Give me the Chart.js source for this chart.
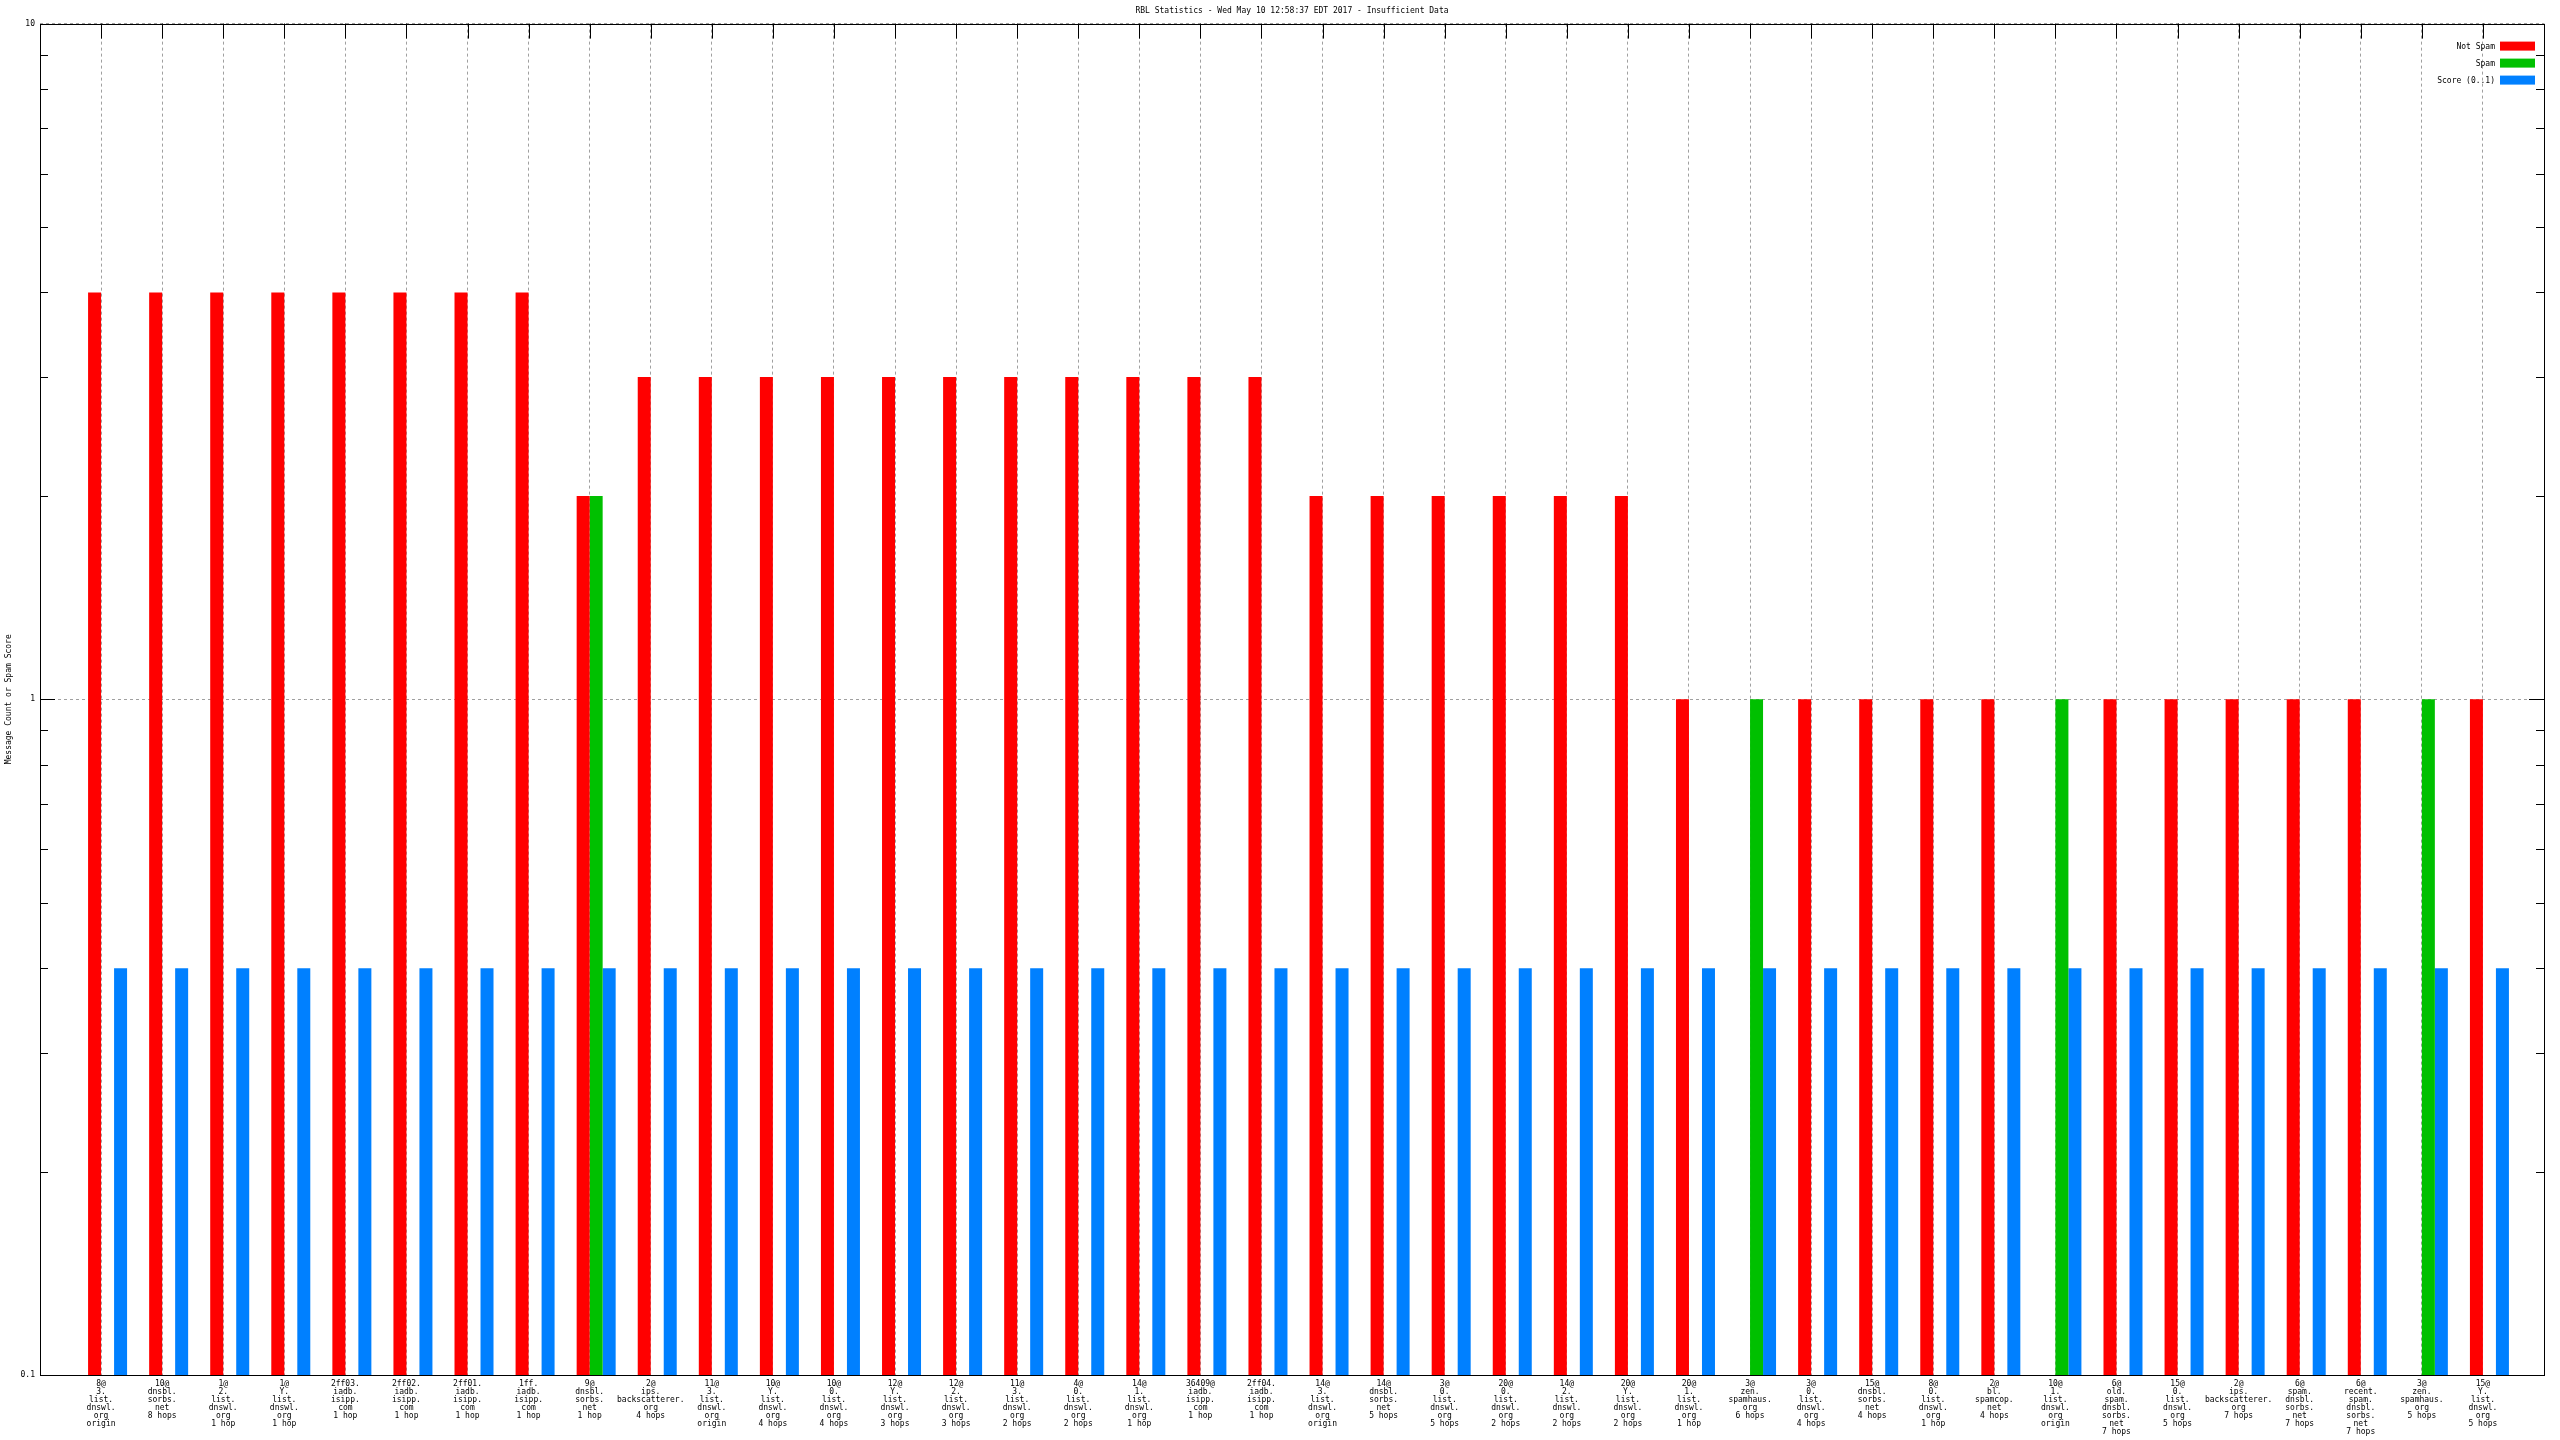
<!DOCTYPE html>
<html>
<head>
<meta charset="utf-8">
<title>RBL Statistics</title>
<script src="https://cdn.jsdelivr.net/npm/chart.js@4.4.0/dist/chart.umd.min.js"></script>
<style>
  html, body { margin: 0; padding: 0; background: #fff; }
  canvas { display: block; }
</style>
</head>
<body>
<canvas id="rbl" width="2560" height="1440"></canvas>
<script>
// data
const categorias = [
    '8@|3.|list.|dnswl.|org|origin',
    '10@|dnsbl.|sorbs.|net|8 hops',
    '1@|2.|list.|dnswl.|org|1 hop',
    '1@|Y.|list.|dnswl.|org|1 hop',
    '2ff03.|iadb.|isipp.|com|1 hop',
    '2ff02.|iadb.|isipp.|com|1 hop',
    '2ff01.|iadb.|isipp.|com|1 hop',
    '1ff.|iadb.|isipp.|com|1 hop',
    '9@|dnsbl.|sorbs.|net|1 hop',
    '2@|ips.|backscatterer.|org|4 hops',
    '11@|3.|list.|dnswl.|org|origin',
    '10@|Y.|list.|dnswl.|org|4 hops',
    '10@|0.|list.|dnswl.|org|4 hops',
    '12@|Y.|list.|dnswl.|org|3 hops',
    '12@|2.|list.|dnswl.|org|3 hops',
    '11@|3.|list.|dnswl.|org|2 hops',
    '4@|0.|list.|dnswl.|org|2 hops',
    '14@|1.|list.|dnswl.|org|1 hop',
    '36409@|iadb.|isipp.|com|1 hop',
    '2ff04.|iadb.|isipp.|com|1 hop',
    '14@|3.|list.|dnswl.|org|origin',
    '14@|dnsbl.|sorbs.|net|5 hops',
    '3@|0.|list.|dnswl.|org|5 hops',
    '20@|0.|list.|dnswl.|org|2 hops',
    '14@|2.|list.|dnswl.|org|2 hops',
    '20@|Y.|list.|dnswl.|org|2 hops',
    '20@|1.|list.|dnswl.|org|1 hop',
    '3@|zen.|spamhaus.|org|6 hops',
    '3@|0.|list.|dnswl.|org|4 hops',
    '15@|dnsbl.|sorbs.|net|4 hops',
    '8@|0.|list.|dnswl.|org|1 hop',
    '2@|bl.|spamcop.|net|4 hops',
    '10@|1.|list.|dnswl.|org|origin',
    '6@|old.|spam.|dnsbl.|sorbs.|net|7 hops',
    '15@|0.|list.|dnswl.|org|5 hops',
    '2@|ips.|backscatterer.|org|7 hops',
    '6@|spam.|dnsbl.|sorbs.|net|7 hops',
    '6@|recent.|spam.|dnsbl.|sorbs.|net|7 hops',
    '3@|zen.|spamhaus.|org|5 hops',
    '15@|Y.|list.|dnswl.|org|5 hops'
];

const naoSpam = [4, 4, 4, 4, 4, 4, 4, 4, 2, 3,
                 3, 3, 3, 3, 3, 3, 3, 3, 3, 3,
                 2, 2, 2, 2, 2, 2, 1, null, 1, 1,
                 1, 1, null, 1, 1, 1, 1, 1, null, 1];

const spam = [null, null, null, null, null, null, null, null, 2, null,
              null, null, null, null, null, null, null, null, null, null,
              null, null, null, null, null, null, null, 1, null, null,
              null, null, 1, null, null, null, null, null, 1, null];

const score = [0.4, 0.4, 0.4, 0.4, 0.4, 0.4, 0.4, 0.4, 0.4, 0.4,
               0.4, 0.4, 0.4, 0.4, 0.4, 0.4, 0.4, 0.4, 0.4, 0.4,
               0.4, 0.4, 0.4, 0.4, 0.4, 0.4, 0.4, 0.4, 0.4, 0.4,
               0.4, 0.4, 0.4, 0.4, 0.4, 0.4, 0.4, 0.4, 0.4, 0.4];

const yTicks = [0.1, 1, 10];
const titulo = 'RBL Statistics - Wed May 10 12:58:37 EDT 2017 - Insufficient Data';

// empty slot before and after the categories, like gnuplot's x range
const pad = arr => [null, ...arr, null];

Chart.defaults.font.family = "'DejaVu Sans Mono', monospace";
Chart.defaults.font.size = 8;
Chart.defaults.color = '#000';

// tics, frame and legend in gnuplot style
const moldura = {
    id: 'moldura',
    afterLayout(chart) {
        // center the title over the plot, not the canvas
        if (chart.titleBlock) {
            chart.titleBlock.left = chart.chartArea.left;
            chart.titleBlock.right = chart.chartArea.right;
        }
    },
    beforeDatasetsDraw(chart) {
        const { ctx, chartArea: a, scales: { x, y } } = chart;
        ctx.save();
        ctx.strokeStyle = '#000';
        ctx.lineWidth = 1;
        ctx.beginPath();
        [0.1, 1].forEach(d => {
            for (let k = 1; k <= 10; k++) {
                const len = (k === 1 || k === 10) ? 15 : 8;
                const py = Math.round(y.getPixelForValue(d * k)) + 0.5;
                ctx.moveTo(a.left, py); ctx.lineTo(a.left + len, py);
                ctx.moveTo(a.right, py); ctx.lineTo(a.right - len, py);
            }
        });
        for (let i = 1; i <= categorias.length; i++) {
            const px = Math.round(x.getPixelForValue(i)) + 0.5;
            ctx.moveTo(px, a.top); ctx.lineTo(px, a.top + 15);
        }
        ctx.stroke();
        ctx.restore();
    },
    afterDatasetsDraw(chart) {
        const { ctx, chartArea: a } = chart;
        ctx.save();
        ctx.strokeStyle = '#000';
        ctx.lineWidth = 1;
        ctx.strokeRect(Math.round(a.left) + 0.5, Math.round(a.top) + 0.5,
                       Math.round(a.right - a.left), Math.round(a.bottom - a.top));
        ctx.font = "8px 'DejaVu Sans Mono', monospace";
        ctx.textAlign = 'right';
        ctx.textBaseline = 'middle';
        chart.data.datasets.filter(ds => ds.label).forEach((ds, i) => {
            const top = a.top + 18 + i * 17;
            ctx.fillStyle = ds.backgroundColor;
            ctx.fillRect(a.right - 44, top, 35, 9);
            ctx.fillStyle = '#000';
            ctx.fillText(ds.label, a.right - 49, top + 5);
        });
        ctx.restore();
    }
};

new Chart(document.getElementById('rbl'), {
    type: 'bar',
    data: {
        labels: ['', ...categorias.map(c => c.split('|')), ''],
        datasets: [
            // spacer slot so the three bars sit where gnuplot puts them
            { label: '', data: pad(categorias.map(() => null)), backgroundColor: 'rgba(0,0,0,0)' },
            { label: 'Not Spam', data: pad(naoSpam), backgroundColor: '#ff0000' },
            { label: 'Spam', data: pad(spam), backgroundColor: '#00c000' },
            { label: 'Score (0..1)', data: pad(score), backgroundColor: '#0080ff' }
        ]
    },
    options: {
        responsive: false,
        animation: false,
        devicePixelRatio: 1,
        categoryPercentage: 0.8515,
        barPercentage: 1,
        layout: { padding: { left: 0, right: 16, top: 0, bottom: 0 } },
        plugins: {
            legend: { display: false },
            tooltip: { enabled: false },
            title: {
                display: true,
                text: titulo,
                color: '#000',
                font: { size: 8, weight: 'normal' },
                padding: { top: 6, bottom: 8 }
            }
        },
        scales: {
            x: {
                type: 'category',
                offset: false,
                grid: { color: '#a0a0a0', lineWidth: 1, drawTicks: false, offset: false },
                border: { display: false, dash: [3, 3] },
                ticks: {
                    autoSkip: false,
                    maxRotation: 0,
                    minRotation: 0,
                    padding: 5,
                    font: { size: 8, lineHeight: 1 }
                },
                afterFit: s => { s.height = 65; }
            },
            y: {
                type: 'logarithmic',
                min: 0.1,
                max: 10,
                grid: { color: '#a0a0a0', lineWidth: 1, drawTicks: false },
                border: { display: false, dash: [3, 3] },
                afterBuildTicks: s => { s.ticks = yTicks.map(v => ({ value: v })); },
                ticks: {
                    padding: 5,
                    callback: v => String(v)
                },
                title: {
                    display: true,
                    text: 'Message Count or Spam Score',
                    padding: { top: 4, bottom: 0 }
                },
                afterFit: s => { s.width = 40; }
            }
        }
    },
    plugins: [moldura]
});
</script>
</body>
</html>
